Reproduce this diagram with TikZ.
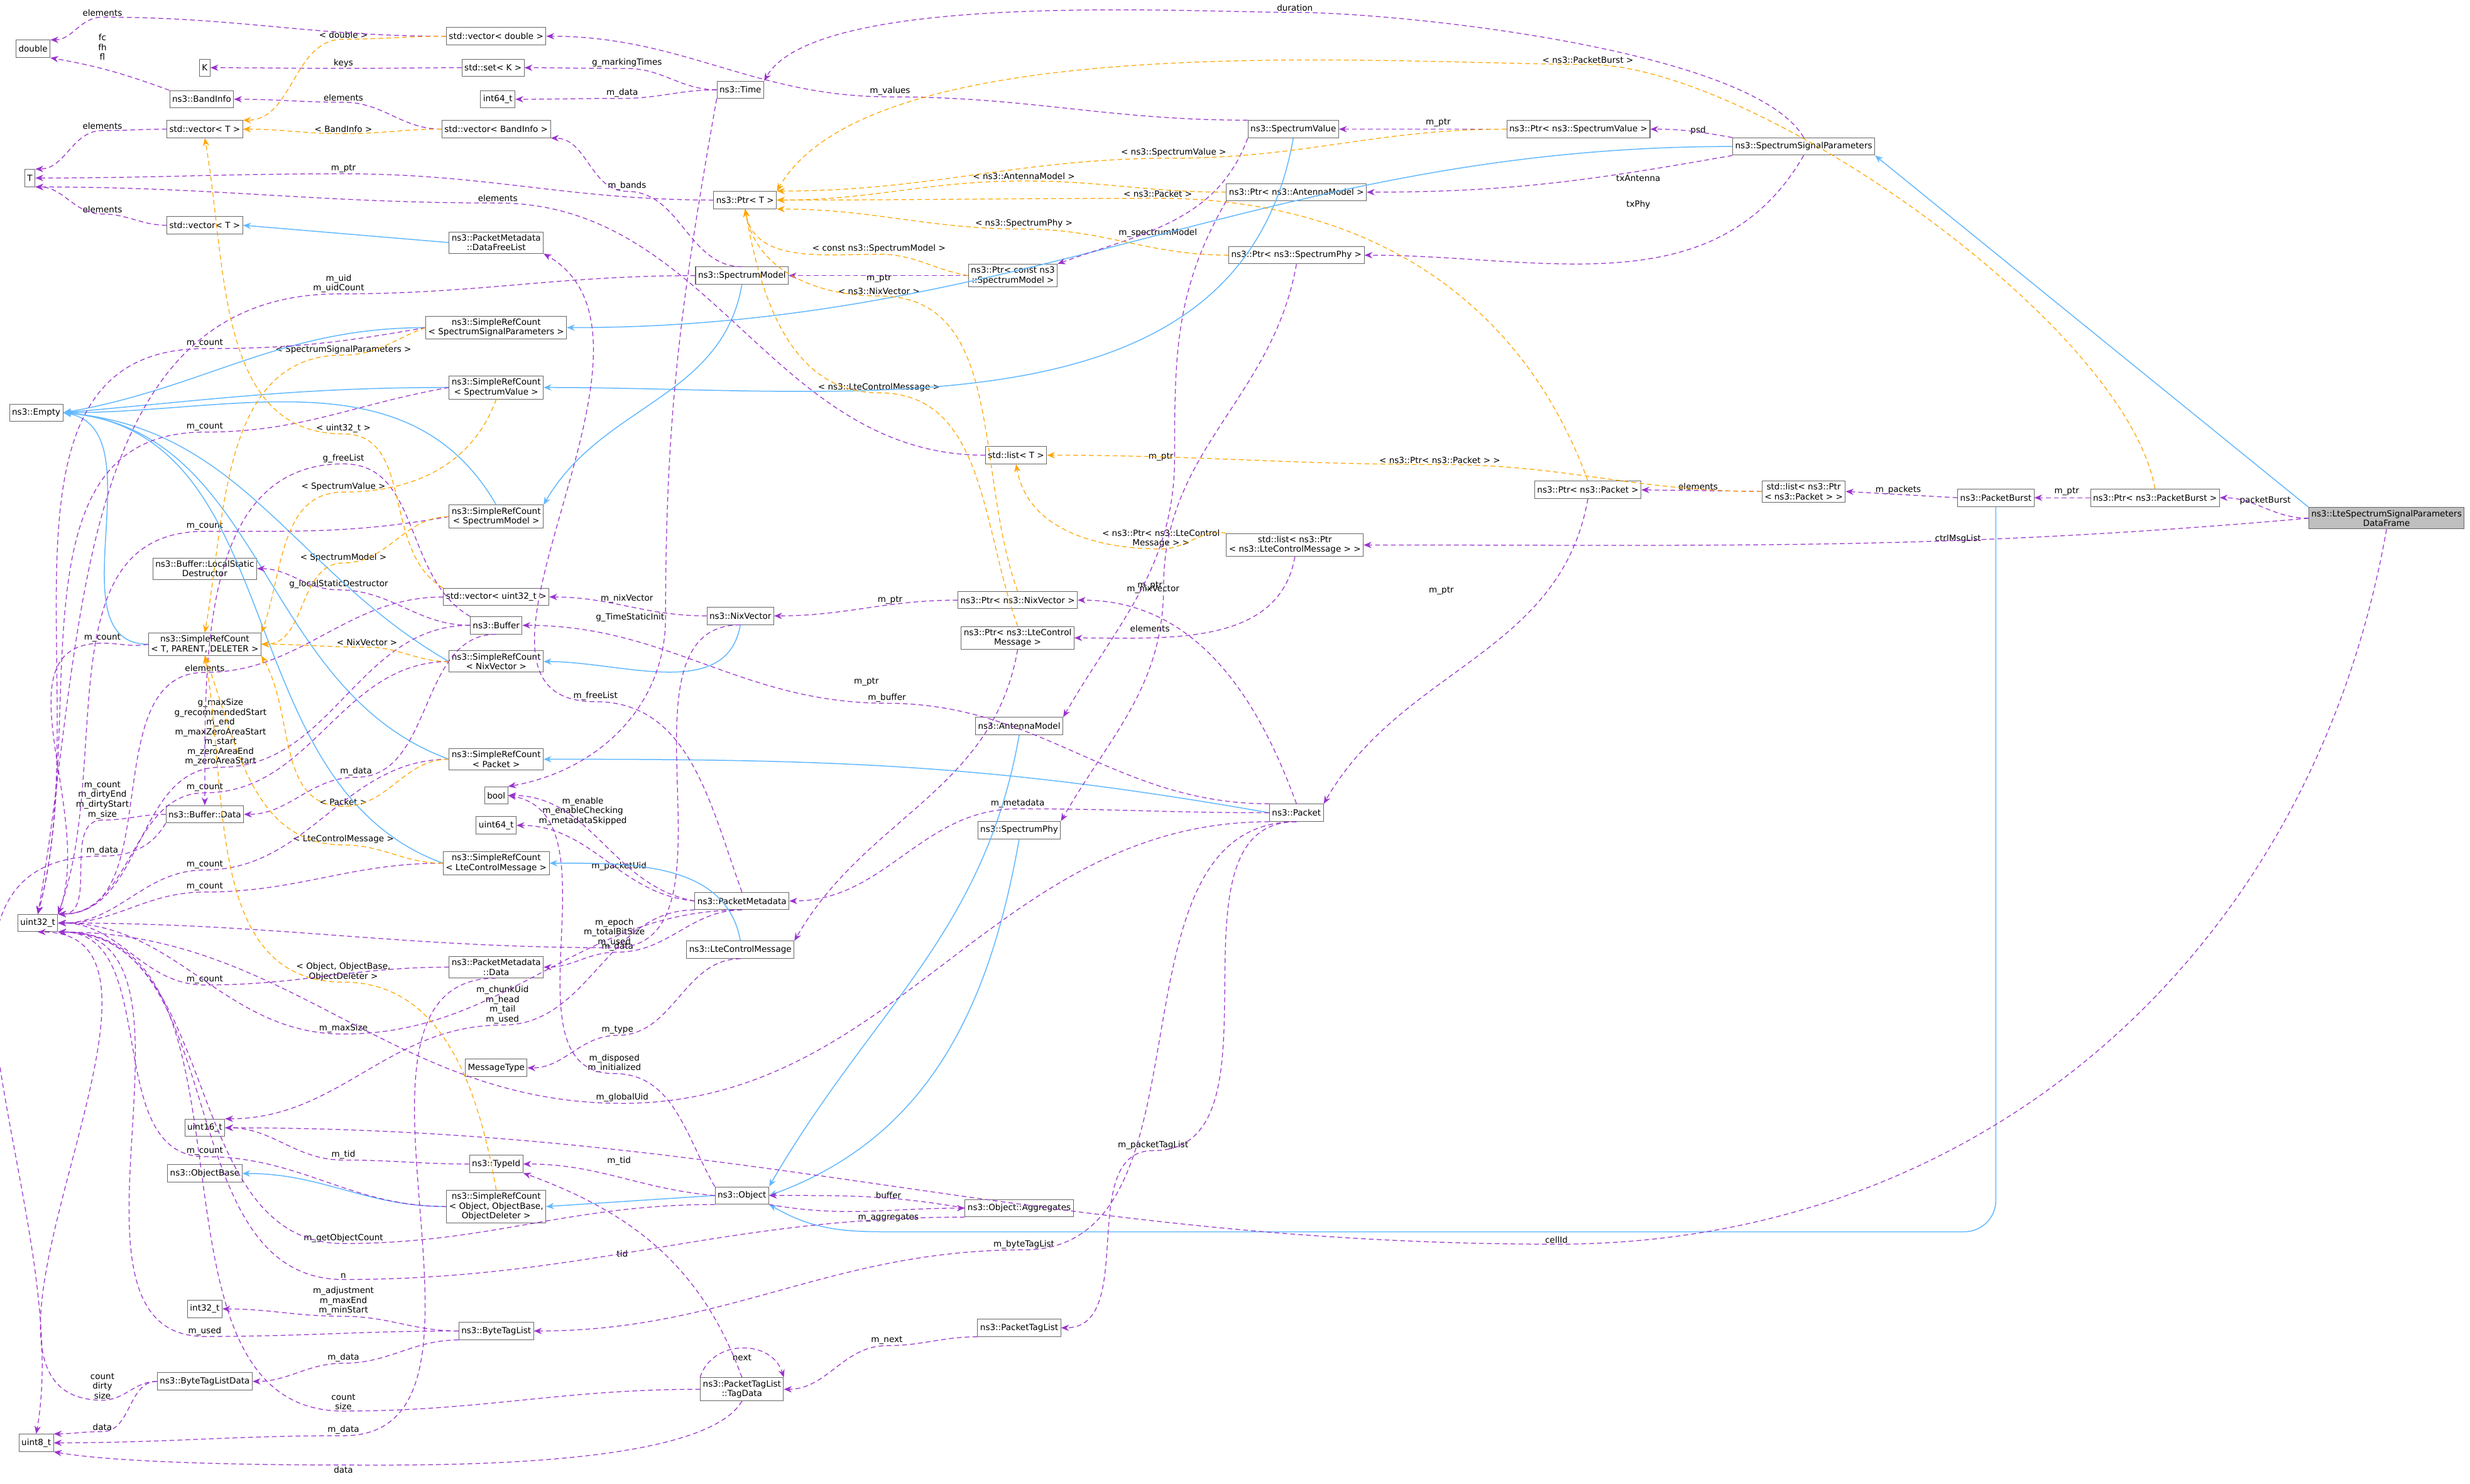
\documentclass[tikz,border=0pt]{standalone}
\usepackage{fontspec}
\setmainfont{DejaVu Sans}
\usetikzlibrary{arrows.meta}
\definecolor{cb}{HTML}{63B8FF}
\definecolor{cp}{HTML}{9A32CD}
\definecolor{co}{HTML}{FFA500}
\newcommand\edgevia[4]{\draw[#1] (#2) to[out=180,in=0] (#3.south) to[out=180,in=0] (#4);}
\begin{document}
\begin{tikzpicture}[x=1pt,y=-1pt,
 box/.style={draw=black!60, fill=white, inner sep=1.6pt, minimum height=11pt, font=\fontsize{5.4}{6.2}\selectfont, align=center},
 lbl/.style={font=\fontsize{5.4}{6.2}\selectfont, align=center, inner sep=0.6pt},
 pe/.style={draw=cp, dash pattern=on 3pt off 2pt, line width=0.5pt, -{Stealth[length=5pt,width=4pt]}},
 oe/.style={draw=co, dash pattern=on 3pt off 2pt, line width=0.5pt, -{Stealth[length=5pt,width=4pt]}},
 be/.style={draw=cb, line width=0.6pt, -{Stealth[length=5pt,width=4pt]}}]
\useasboundingbox (0,0) rectangle (1568,942);
% nodes
\node[box] (dbl) at (21,31) {double};
\node[box] (K) at (130,43) {K};
\node[box] (vecd) at (315,23) {std::vector< double >};
\node[box] (setK) at (313,43) {std::set< K >};
\node[box] (i64) at (316,63) {int64\_t};
\node[box] (time) at (470,57) {ns3::Time};
\node[box] (band) at (128,63) {ns3::BandInfo};
\node[box] (vecT1) at (130,82) {std::vector< T >};
\node[box] (vecband) at (315,82) {std::vector< BandInfo >};
\node[box] (T) at (19,113) {T};
\node[box] (ptrT) at (473,127) {ns3::Ptr< T >};
\node[box] (vecT2) at (130,143) {std::vector< T >};
\node[box] (dfl) at (315,154) {ns3::PacketMetadata\\::DataFreeList};
\node[box] (specval) at (821,82) {ns3::SpectrumValue};
\node[box] (ptrsv) at (1002,82) {ns3::Ptr< ns3::SpectrumValue >};
\node[box] (ssp) at (1145,93) {ns3::SpectrumSignalParameters};
\node[box] (ptram) at (823,122) {ns3::Ptr< ns3::AntennaModel >};
\node[box] (ptrsp) at (823,162) {ns3::Ptr< ns3::SpectrumPhy >};
\node[box] (specmodel) at (471,175) {ns3::SpectrumModel};
\node[box] (ptrcsm) at (643,175) {ns3::Ptr< const ns3\\::SpectrumModel >};
\node[box] (srcssp) at (315,208) {ns3::SimpleRefCount\\< SpectrumSignalParameters >};
\node[box] (srcsv) at (315,246) {ns3::SimpleRefCount\\< SpectrumValue >};
\node[box] (empty) at (23,262) {ns3::Empty};
\node[box] (listT) at (645,289) {std::list< T >};
\node[box] (ptrpk) at (1008,311) {ns3::Ptr< ns3::Packet >};
\node[box] (listpk) at (1145,312) {std::list< ns3::Ptr\\< ns3::Packet > >};
\node[box] (pburst) at (1267,316) {ns3::PacketBurst};
\node[box] (ptrpb) at (1368,316) {ns3::Ptr< ns3::PacketBurst >};
\node[box, fill=black!25] (main) at (1515,329) {ns3::LteSpectrumSignalParameters\\DataFrame};
\node[box] (srcsm) at (315,328) {ns3::SimpleRefCount\\< SpectrumModel >};
\node[box] (listlte) at (822,346) {std::list< ns3::Ptr\\< ns3::LteControlMessage > >};
\node[box] (lsd) at (130,361) {ns3::Buffer::LocalStatic\\Destructor};
\node[box] (vecu32) at (315,379) {std::vector< uint32\_t >};
\node[box] (ptrnix) at (646,381) {ns3::Ptr< ns3::NixVector >};
\node[box] (nix) at (470,391) {ns3::NixVector};
\node[box] (buffer) at (315,397) {ns3::Buffer};
\node[box] (srcT) at (130,409) {ns3::SimpleRefCount\\< T, PARENT, DELETER >};
\node[box] (srcnix) at (315,420) {ns3::SimpleRefCount\\< NixVector >};
\node[box] (ptrlte) at (646,405) {ns3::Ptr< ns3::LteControl\\Message >};
\node[box] (antenna) at (647,461) {ns3::AntennaModel};
\node[box] (srcpk) at (315,482) {ns3::SimpleRefCount\\< Packet >};
\node[box] (bool) at (315,505) {bool};
\node[box] (packet) at (823,516) {ns3::Packet};
\node[box] (bufdata) at (130,517) {ns3::Buffer::Data};
\node[box] (u64) at (315,524) {uint64\_t};
\node[box] (specphy) at (647,527) {ns3::SpectrumPhy};
\node[box] (srclte) at (315,548) {ns3::SimpleRefCount\\< LteControlMessage >};
\node[box] (pmeta) at (471,572) {ns3::PacketMetadata};
\node[box] (u32) at (24,586) {uint32\_t};
\node[box] (ltecm) at (470,603) {ns3::LteControlMessage};
\node[box] (pmdata) at (315,614) {ns3::PacketMetadata\\::Data};
\node[box] (msgtype) at (315,678) {MessageType};
\node[box] (u16) at (130,716) {uint16\_t};
\node[box] (typeid) at (315,739) {ns3::TypeId};
\node[box] (objbase) at (130,745) {ns3::ObjectBase};
\node[box] (srcobj) at (315,766) {ns3::SimpleRefCount\\< Object, ObjectBase,\\ObjectDeleter >};
\node[box] (object) at (471,759) {ns3::Object};
\node[box] (aggr) at (647,767) {ns3::Object::Aggregates};
\node[box] (i32) at (130,831) {int32\_t};
\node[box] (btl) at (315,845) {ns3::ByteTagList};
\node[box] (ptl) at (647,843) {ns3::PacketTagList};
\node[box] (btld) at (130,877) {ns3::ByteTagListData};
\node[box] (tagdata) at (471,882) {ns3::PacketTagList\\::TagData};
\node[box] (u8) at (23,916) {uint8\_t};
% labels
\node[lbl] (LA) at (65,8) {elements};
\node[lbl] (LB) at (218,40) {keys};
\node[lbl] (LC) at (398,40) {g\_markingTimes};
\node[lbl] (LD) at (395,59) {m\_data};
\node[lbl] (LE) at (218,62) {elements};
\node[lbl] (LF) at (65,30) {fc\\fh\\fl};
\node[lbl] (LG) at (65,80) {elements};
\node[lbl] (LH) at (218,107) {m\_ptr};
\node[lbl] (LI) at (65,133) {elements};
\node[lbl] (LJ) at (565,58) {m\_values};
\node[lbl] (LK) at (735,148) {m\_spectrumModel};
\node[lbl] (LL) at (913,78) {m\_ptr};
\node[lbl] (LM) at (1078,83) {psd};
\node[lbl] (LN) at (1040,113) {txAntenna};
\node[lbl] (LO) at (1040,130) {txPhy};
\node[lbl] (LP) at (822,5) {duration};
\node[lbl] (LQ) at (398,118) {m\_bands};
\node[lbl] (LR) at (215,180) {m\_uid\\m\_uidCount};
\node[lbl] (LS) at (558,177) {m\_ptr};
\node[lbl] (LT) at (737,290) {m\_ptr};
\node[lbl] (LU) at (730,372) {m\_ptr};
\node[lbl] (LV) at (316,126) {elements};
\node[lbl] (LW) at (130,218) {m\_count};
\node[lbl] (LX) at (130,271) {m\_count};
\node[lbl] (LY) at (130,334) {m\_count};
\node[lbl] (LZ) at (65,405) {m\_count};
\node[lbl] (Ma) at (130,500) {m\_count};
\node[lbl] (Mb) at (140,465) {g\_maxSize\\g\_recommendedStart\\m\_end\\m\_maxZeroAreaStart\\m\_start\\m\_zeroAreaEnd\\m\_zeroAreaStart};
\node[lbl] (Mc) at (218,291) {g\_freeList};
\node[lbl] (Md) at (215,371) {g\_localStaticDestructor};
\node[lbl] (Me) at (226,490) {m\_data};
\node[lbl] (Mf) at (65,508) {m\_count\\m\_dirtyEnd\\m\_dirtyStart\\m\_size};
\node[lbl] (Mg) at (65,540) {m\_data};
\node[lbl] (Mh) at (130,424) {elements};
\node[lbl] (Mi) at (398,380) {m\_nixVector};
\node[lbl] (Mj) at (390,592) {m\_epoch\\m\_totalBitSize\\m\_used};
\node[lbl] (Mk) at (565,381) {m\_ptr};
\node[lbl] (Ml) at (732,374) {m\_nixVector};
\node[lbl] (Mm) at (563,443) {m\_buffer};
\node[lbl] (Mn) at (646,510) {m\_metadata};
\node[lbl] (Mo) at (650,790) {m\_byteTagList};
\node[lbl] (Mp) at (732,727) {m\_packetTagList};
\node[lbl] (Mq) at (395,697) {m\_globalUid};
\node[lbl] (Mr) at (915,375) {m\_ptr};
\node[lbl] (Ms) at (1078,309) {elements};
\node[lbl] (Mt) at (1205,311) {m\_packets};
\node[lbl] (Mu) at (1312,312) {m\_ptr};
\node[lbl] (Mv) at (1438,318) {packetBurst};
\node[lbl] (Mw) at (1243,342) {ctrlMsgList};
\node[lbl] (Mx) at (988,787) {cellId};
\node[lbl] (My) at (730,399) {elements};
\node[lbl] (Mz) at (550,433) {m\_ptr};
\node[lbl] (Na) at (392,654) {m\_type};
\node[lbl] (Nb) at (378,442) {m\_freeList};
\node[lbl] (Nc) at (370,515) {m\_enable\\m\_enableChecking\\m\_metadataSkipped};
\node[lbl] (Nd) at (393,550) {m\_packetUid};
\node[lbl] (Ne) at (392,601) {m\_data};
\node[lbl] (Nf) at (319,638) {m\_chunkUid\\m\_head\\m\_tail\\m\_used};
\node[lbl] (Ng) at (218,653) {m\_maxSize};
\node[lbl] (Nh) at (400,392) {g\_TimeStaticInit};
\node[lbl] (Ni) at (390,675) {m\_disposed\\m\_initialized};
\node[lbl] (Nj) at (393,737) {m\_tid};
\node[lbl] (Nk) at (564,759) {buffer};
\node[lbl] (Nl) at (564,773) {m\_aggregates};
\node[lbl] (Nm) at (218,786) {m\_getObjectCount};
\node[lbl] (Nn) at (218,733) {m\_tid};
\node[lbl] (No) at (218,810) {n};
\node[lbl] (Np) at (218,826) {m\_adjustment\\m\_maxEnd\\m\_minStart};
\node[lbl] (Nq) at (130,845) {m\_used};
\node[lbl] (Nr) at (218,862) {m\_data};
\node[lbl] (Ns) at (65,880) {count\\dirty\\size};
\node[lbl] (Nt) at (65,906) {data};
\node[lbl] (Nu) at (563,851) {m\_next};
\node[lbl] (Nv) at (471,862) {next};
\node[lbl] (Nw) at (395,796) {tid};
\node[lbl] (Nx) at (218,890) {count\\size};
\node[lbl] (Ny) at (218,933) {data};
\node[lbl] (Nz) at (218,908) {m\_data};
\node[lbl] (Oa) at (130,622) {m\_count};
\node[lbl] (Ob) at (130,549) {m\_count};
\node[lbl] (Oc) at (130,563) {m\_count};
\node[lbl] (Od) at (130,731) {m\_count};
\node[lbl] (Pa) at (218,22) {< double >};
\node[lbl] (Pb) at (218,82) {< BandInfo >};
\node[lbl] (Pc) at (218,272) {< uint32\_t >};
\node[lbl] (Pd) at (745,97) {< ns3::SpectrumValue >};
\node[lbl] (Pe) at (650,112) {< ns3::AntennaModel >};
\node[lbl] (Pf) at (650,142) {< ns3::SpectrumPhy >};
\node[lbl] (Pg) at (558,158) {< const ns3::SpectrumModel >};
\node[lbl] (Ph) at (558,185) {< ns3::NixVector >};
\node[lbl] (Pi) at (558,246) {< ns3::LteControlMessage >};
\node[lbl] (Pj) at (735,123) {< ns3::Packet >};
\node[lbl] (Pk) at (1008,38) {< ns3::PacketBurst >};
\node[lbl] (Pl) at (914,292) {< ns3::Ptr< ns3::Packet > >};
\node[lbl] (Pm) at (737,342) {< ns3::Ptr< ns3::LteControl\\Message > >};
\node[lbl] (Pn) at (218,222) {< SpectrumSignalParameters >};
\node[lbl] (Po) at (218,309) {< SpectrumValue >};
\node[lbl] (Pp) at (218,354) {< SpectrumModel >};
\node[lbl] (Pq) at (233,408) {< NixVector >};
\node[lbl] (Pr) at (218,509) {< Packet >};
\node[lbl] (Ps) at (218,533) {< LteControlMessage >};
\node[lbl] (Pt) at (218,617) {< Object, ObjectBase,\\ObjectDeleter >};
% blue edges
\draw[be] (dfl.west) -- (vecT2.east);
\draw[be] (srcssp.west) to[out=180,in=10] (empty.east);
\draw[be] (srcsv.west) to[out=180,in=5] (empty.east);
\draw[be] (srcsm.north) to[out=120,in=0] (empty.east);
\draw[be] (srcT.west) to[out=180,in=-10] (empty.east);
\draw[be] (srcnix.west) to[out=150,in=-5] (empty.east);
\draw[be] (srcpk.west) to[out=160,in=-5] (empty.east);
\draw[be] (srclte.west) to[out=160,in=-5] (empty.east);
\draw[be] (specval.south) to[out=-100,in=0] (srcsv.east);
\draw[be] (ssp.west) to[out=180,in=0] (srcssp.east);
\draw[be] (specmodel.south) to[out=-100,in=60] (srcsm.north east);
\draw[be] (main.north west) -- (ssp.south east);
\draw[be] (nix.south) to[out=-100,in=0] (srcnix.east);
\draw[be] (packet.west) to[out=170,in=0] (srcpk.east);
\draw[be] (ltecm.north) to[out=100,in=0] (srclte.east);
\draw[be] (object.west) -- (srcobj.east);
\draw[be] (srcobj.west) to[out=180,in=0] (objbase.east);
\draw[be] (antenna.south) to[out=-100,in=60] (object.north east);
\draw[be] (specphy.south) to[out=-100,in=20] (object.east);
\draw[be] (pburst.south) -- (1267,762) to[out=-90,in=0] (1247,782) -- (560,782) to[out=180,in=-30] (object.south east);
% purple edges
\edgevia{pe}{vecd.west}{LA}{dbl.north east}
\edgevia{pe}{setK.west}{LB}{K.east}
\edgevia{pe}{time.west}{LC}{setK.east}
\edgevia{pe}{time.west}{LD}{i64.east}
\edgevia{pe}{vecband.west}{LE}{band.east}
\draw[pe] (band.north west) to[out=160,in=-10] (dbl.south east);
\edgevia{pe}{vecT1.west}{LG}{T.north east}
\edgevia{pe}{ptrT.west}{LH}{T.east}
\edgevia{pe}{vecT2.west}{LI}{T.south east}
\edgevia{pe}{specval.north west}{LJ}{vecd.east}
\draw[pe] (specval.south west) to[out=-110,in=20] (ptrcsm.north east);
\draw[pe] (ptrsv.west) to[out=180,in=0] (specval.east);
\draw[pe] (ssp.north west) to[out=170,in=0] (ptrsv.east);
\draw[pe] (ssp.south west) to[out=190,in=0] (ptram.east);
\draw[pe] (ssp.south) to[out=-120,in=0] (ptrsp.east);
\draw[pe] (ssp.north) to[out=120,in=0,looseness=0.5] (LP.south) to[out=180,in=60,looseness=0.5] (time.north east);
\edgevia{pe}{specmodel.north}{LQ}{vecband.south east}
\draw[pe] (specmodel.west) to[out=180,in=0] (LR.south) to[out=180,in=80] (u32.north);
\draw[pe] (ptrcsm.west) to[out=180,in=0] (specmodel.east);
\draw[pe] (ptram.south west) to[out=-120,in=90] (LT.east) to[out=-90,in=60] (antenna.north east);
\draw[pe] (ptrsp.south) to[out=-100,in=90] (LU.east) to[out=-90,in=60] (specphy.north east);
\edgevia{pe}{listT.west}{LV}{T.south east}
\draw[pe] (srcssp.west) to[out=190,in=0] (LW.south) to[out=180,in=75] (u32.north);
\draw[pe] (srcsv.west) to[out=190,in=0] (LX.south) to[out=180,in=75] (u32.north);
\draw[pe] (srcsm.west) to[out=190,in=0] (LY.south) to[out=180,in=70] (u32.north east);
\draw[pe] (srcT.west) to[out=190,in=0] (LZ.south) to[out=180,in=70] (u32.north east);
\edgevia{pe}{srcnix.west}{Ma}{u32.north east}
\edgevia{pe}{buffer.west}{Mb}{u32.north east}
\draw[pe] (buffer.north west) to[out=150,in=0] (Mc.south) to[out=180,in=90] (bufdata.north);
\edgevia{pe}{buffer.west}{Md}{lsd.east}
\edgevia{pe}{buffer.south}{Me}{bufdata.east}
\edgevia{pe}{bufdata.west}{Mf}{u32.north east}
\draw[pe] (bufdata.south west) to[out=-120,in=0] (Mg.south) to[out=180,in=80] (u8.north);
\edgevia{pe}{vecu32.west}{Mh}{u32.north east}
\draw[pe] (nix.west) to[out=180,in=0] (vecu32.east);
\edgevia{pe}{nix.south}{Mj}{u32.east}
\draw[pe] (ptrnix.west) to[out=180,in=0] (nix.east);
\draw[pe] (packet.north) to[out=110,in=0] (ptrnix.east);
\edgevia{pe}{packet.north west}{Mm}{buffer.east}
\edgevia{pe}{packet.west}{Mn}{pmeta.east}
\edgevia{pe}{packet.south}{Mo}{btl.east}
\edgevia{pe}{packet.south}{Mp}{ptl.east}
\edgevia{pe}{packet.south west}{Mq}{u32.south east}
\draw[pe] (ptrpk.south) to[out=-100,in=60] (packet.north east);
\draw[pe] (listpk.west) -- (ptrpk.east);
\draw[pe] (pburst.west) -- (listpk.east);
\draw[pe] (ptrpb.west) -- (pburst.east);
\draw[pe] (main.west) to[out=180,in=0] (ptrpb.east);
\draw[pe] (main.west) to[out=185,in=0] (listlte.east);
\draw[pe] (main.south) to[out=-100,in=0] (Mx.south) to[out=180,in=0] (u16.east);
\draw[pe] (listlte.south) to[out=-100,in=0] (ptrlte.east);
\draw[pe] (ptrlte.south) to[out=-100,in=60] (ltecm.north east);
\edgevia{pe}{ltecm.south}{Na}{msgtype.east}
\draw[pe] (pmeta.north) to[out=110,in=0] (Nb.south) to[out=180,in=-30] (dfl.south east);
\draw[pe] (pmeta.west) to[out=170,in=0] (bool.east);
\draw[pe] (pmeta.west) to[out=175,in=0] (u64.east);
\edgevia{pe}{pmeta.south}{Ne}{pmdata.east}
\edgevia{pe}{pmeta.south west}{Nf}{u16.north east}
\edgevia{pe}{pmeta.south}{Ng}{u32.east}
\draw[pe] (time.south west) to[out=-100,in=90] (Nh.east) to[out=-90,in=10] (bool.north east);
\draw[pe] (object.north west) to[out=120,in=0] (Ni.south) to[out=180,in=-10] (bool.east);
\draw[pe] (object.west) to[out=175,in=0] (typeid.east);
\draw[pe] (aggr.west) to[out=170,in=0] (object.east);
\draw[pe] (object.south east) to[out=-10,in=180] (aggr.west);
\edgevia{pe}{object.south west}{Nm}{u32.south east}
\edgevia{pe}{typeid.west}{Nn}{u16.east}
\edgevia{pe}{aggr.south west}{No}{u32.south east}
\edgevia{pe}{btl.west}{Np}{i32.east}
\edgevia{pe}{btl.west}{Nq}{u32.south east}
\edgevia{pe}{btl.south west}{Nr}{btld.east}
\edgevia{pe}{btld.west}{Ns}{u32.south}
\edgevia{pe}{btld.west}{Nt}{u8.north east}
\edgevia{pe}{ptl.south west}{Nu}{tagdata.east}
\draw[pe] (tagdata.north west) .. controls (452,850) and (490,850) .. (tagdata.north east);
\draw[pe] (tagdata.north) to[out=110,in=-20] (typeid.south east);
\edgevia{pe}{tagdata.west}{Nx}{u32.south east}
\draw[pe] (tagdata.south) to[out=-120,in=0,looseness=0.5] (Ny.north) to[out=180,in=-10,looseness=0.6] (u8.south east);
\edgevia{pe}{pmdata.south}{Nz}{u8.east}
\edgevia{pe}{pmdata.west}{Oa}{u32.east}
\edgevia{pe}{srcpk.west}{Ob}{u32.east}
\edgevia{pe}{srclte.west}{Oc}{u32.east}
\edgevia{pe}{srcobj.west}{Od}{u32.south east}
% orange edges
\edgevia{oe}{vecd.west}{Pa}{vecT1.north east}
\edgevia{oe}{vecband.west}{Pb}{vecT1.east}
\draw[oe] (vecu32.north west) to[out=150,in=0] (Pc.south) to[out=180,in=-80] (vecT1.south);
\edgevia{oe}{ptrsv.west}{Pd}{ptrT.north east}
\edgevia{oe}{ptram.west}{Pe}{ptrT.east}
\edgevia{oe}{ptrsp.west}{Pf}{ptrT.south east}
\draw[oe] (ptrcsm.west) to[out=170,in=0] (Pg.south) to[out=180,in=-80] (ptrT.south);
\draw[oe] (ptrnix.north) to[out=110,in=0] (Ph.south) to[out=180,in=-80] (ptrT.south);
\draw[oe] (ptrlte.north) to[out=110,in=0] (Pi.south) to[out=180,in=-80] (ptrT.south);
\draw[oe] (ptrpk.north) to[out=110,in=0] (Pj.south) to[out=180,in=0] (ptrT.east);
\draw[oe] (ptrpb.north) to[out=100,in=0,looseness=0.6] (Pk.south) to[out=180,in=60,looseness=0.6] (ptrT.north east);
\edgevia{oe}{listpk.west}{Pl}{listT.east}
\draw[oe] (listlte.north west) to[out=170,in=0] (Pm.south) to[out=180,in=-80] (listT.south);
\draw[oe] (srcssp.west) to[out=200,in=0] (Pn.south) to[out=180,in=80] (srcT.north);
\draw[oe] (srcsv.south) to[out=-110,in=0] (Po.south) to[out=180,in=70] (srcT.north east);
\edgevia{oe}{srcsm.west}{Pp}{srcT.east}
\edgevia{oe}{srcnix.west}{Pq}{srcT.east}
\draw[oe] (srcpk.west) to[out=180,in=0] (Pr.south) to[out=180,in=-60] (srcT.south east);
\draw[oe] (srclte.west) to[out=180,in=0] (Ps.south) to[out=180,in=-70] (srcT.south);
\draw[oe] (srcobj.north) to[out=100,in=0] (Pt.south) to[out=180,in=-80] (srcT.south);
\end{tikzpicture}
\end{document}
